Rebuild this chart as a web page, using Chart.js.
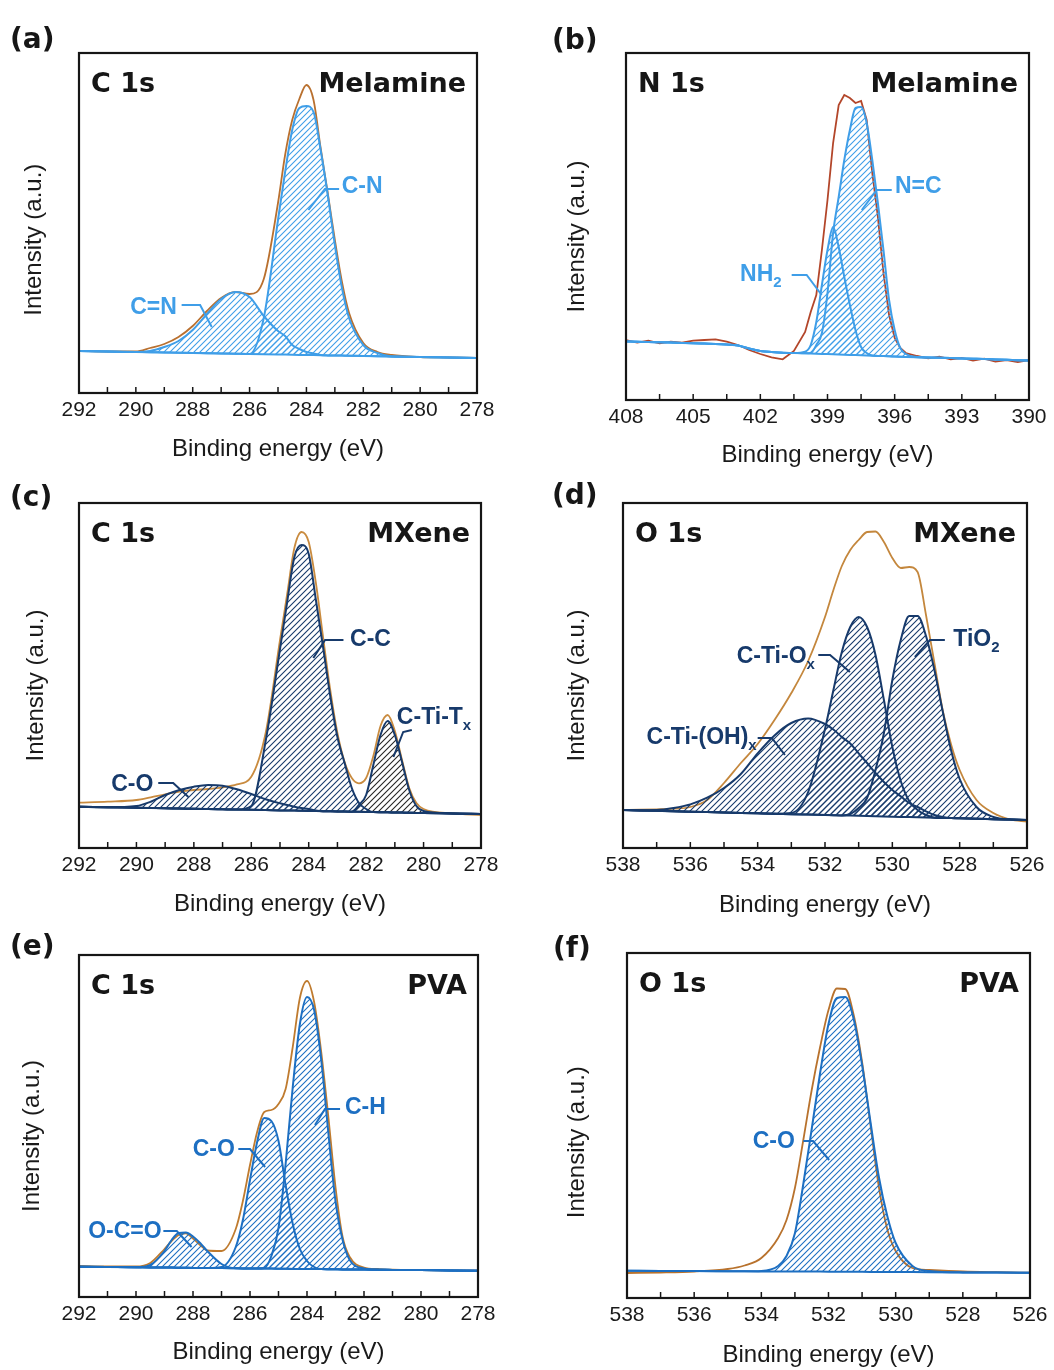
<!DOCTYPE html>
<html lang="en">
<head>
<meta charset="UTF-8">
<title>XPS spectra</title>
<style>
  body { margin: 0; background: #fff; }
  #page { position: relative; width: 1054px; height: 1370px; overflow: hidden; }
  canvas { position: absolute; }
</style>
<script src="https://cdn.jsdelivr.net/npm/chart.js"></script>
</head>
<body>
<div id="page">
  <canvas id="pa" width="527" height="470" style="left:0;top:0"></canvas>
  <canvas id="pb" width="527" height="470" style="left:527px;top:0"></canvas>
  <canvas id="pc" width="527" height="455" style="left:0;top:470px"></canvas>
  <canvas id="pd" width="527" height="455" style="left:527px;top:470px"></canvas>
  <canvas id="pe" width="527" height="445" style="left:0;top:925px"></canvas>
  <canvas id="pf" width="527" height="445" style="left:527px;top:925px"></canvas>
</div>
<script>
// ---- (a) C 1s, melamine ----
const aEnergy   = [292, 291, 290, 289.5, 289, 288.5, 288, 287.5, 287, 286.5, 286, 285.5, 285, 284.75, 284.5, 284.25, 284, 283.75, 283.5, 283.25, 283, 282.75, 282.5, 282, 281.5, 281, 280, 279, 278];
const aBaseline = [42, 41.5, 41, 40.8, 40.5, 40.3, 40, 39.8, 39.5, 39.3, 39, 38.8, 38.5, 38.4, 38.3, 38.1, 38, 37.9, 37.8, 37.6, 37.5, 37.4, 37.3, 37, 36.8, 36.5, 36, 35.5, 35];
const aEnvelope = [42, 41.5, 41.5, 45, 49, 56, 67, 82, 95, 101, 99, 114, 190, 238, 273, 294, 308, 293, 245, 200, 153, 111, 80, 50, 41, 38, 36, 35.5, 35];
const aCN       = [42, 41.5, 41, 40.8, 40.5, 40.3, 40, 39.8, 39.5, 39.3, 39, 75, 173, 221, 263, 285, 287, 281, 243, 198, 148, 105, 75, 48, 40, 36.5, 36, 35.5, 35];
const aCeqN     = [42, 41.5, 41, 42, 46, 52, 63, 79, 94, 101, 96, 77, 62, 57, 48, 44, 41, 39.5, 38, 37.6, 37.5, 37.4, 37.3, 37, 36.8, 36.5, 36, 35.5, 35];
const aTicks    = [292, 290, 288, 286, 284, 282, 280, 278];

// ---- (b) N 1s, melamine ----
const bEnergy   = [408, 407.5, 407, 406.5, 406, 405.5, 405, 404.5, 404, 403.5, 403, 402.5, 402, 401.5, 401, 400.5, 400, 399.75, 399.5, 399.25, 399, 398.75, 398.5, 398.25, 398, 397.75, 397.5, 397.25, 397, 396.75, 396.5, 396.25, 396, 395.75, 395.5, 395, 394.5, 394, 393.5, 393, 392.5, 392, 391.5, 391, 390.5, 390];
const bBaseline = [58.5, 58.2, 58, 57.7, 57.4, 57.1, 56.8, 56.4, 56, 55.4, 54.5, 51.5, 49, 48, 47.3, 47, 46.7, 46.5, 46.3, 46.1, 45.9, 45.7, 45.5, 45.3, 45.1, 44.9, 44.7, 44.5, 44.3, 44.1, 43.9, 43.7, 43.5, 43.3, 43.1, 42.8, 42.5, 42.2, 41.9, 41.6, 41.3, 41, 40.6, 40.2, 39.8, 39.4];
const bEnvelope = [60, 57.3, 59.3, 56.7, 58.3, 57.3, 59.3, 60, 60.7, 58.3, 55, 50, 46, 42.7, 40.7, 49, 68, 88, 105, 150, 200, 257, 295, 305, 302, 297, 299, 280, 227, 183, 127, 85, 62, 52, 47, 44, 41.7, 43.3, 40.7, 42, 39.3, 41.3, 38.3, 40, 38, 40];
const bNC       = [58.5, 58.2, 58, 57.7, 57.4, 57.1, 56.8, 56.4, 56, 55.4, 54.5, 51.5, 49, 48, 47.3, 47, 46.7, 47, 55, 67, 107, 167, 203, 240, 270, 292, 293, 277, 240, 197, 150, 100, 70, 52, 46, 43, 42.5, 42.2, 41.9, 41.6, 41.3, 41, 40.6, 40.2, 39.8, 39.4];
const bNH2      = [58.5, 58.2, 58, 57.7, 57.4, 57.1, 56.8, 56.4, 56, 55.4, 54.5, 51.5, 49, 48, 47.3, 47, 48.3, 55, 78, 115, 150, 173, 153, 123, 95, 70, 53, 47, 44.5, 44.1, 43.9, 43.7, 43.5, 43.3, 43.1, 42.8, 42.5, 42.2, 41.9, 41.6, 41.3, 41, 40.6, 40.2, 39.8, 39.4];
const bTicks    = [408, 405, 402, 399, 396, 393, 390];

// ---- (c) C 1s, MXene ----
const cEnergy   = [292, 291, 290, 289.5, 289, 288.5, 288, 287.5, 287, 286.5, 286, 285.5, 285, 284.75, 284.5, 284.25, 284, 283.75, 283.5, 283.25, 283, 282.75, 282.5, 282.25, 282, 281.75, 281.5, 281.25, 281, 280.75, 280.5, 280.25, 280, 279, 278];
const cBaseline = [41.3, 40.8, 40.3, 40, 39.7, 39.5, 39.2, 39, 38.7, 38.4, 38.2, 37.9, 37.6, 37.5, 37.4, 37.2, 37.1, 37, 36.8, 36.7, 36.6, 36.4, 36.3, 36.2, 36.1, 35.9, 35.8, 35.7, 35.5, 35.4, 35.3, 35.1, 35, 34.5, 34];
const cEnvelope = [45.3, 46.3, 48, 50.7, 53.7, 56.3, 58, 59, 60.7, 63.7, 71.3, 115, 208, 254, 300, 316, 306, 265, 211, 158, 115, 86, 70, 64.7, 70, 92, 122, 133, 117, 88, 60, 45, 39, 34.7, 33];
const cCC       = [41.3, 40.8, 40.3, 40, 39.7, 39.5, 39.2, 39, 38.7, 38.4, 42, 107, 199, 246, 291, 303, 294, 248, 201, 152, 111, 85, 60, 45, 39, 35.9, 35.8, 35.7, 35.5, 35.4, 35.3, 35.1, 35, 34.5, 34];
const cCO       = [41.3, 40.8, 42, 46.3, 53, 58, 61.3, 63, 62.3, 58.7, 54, 48.7, 44.7, 43, 41.3, 40, 39, 37.5, 36.8, 36.7, 36.6, 36.4, 36.3, 36.2, 36.1, 35.9, 35.8, 35.7, 35.5, 35.4, 35.3, 35.1, 35, 34.5, 34];
const cCTiTx    = [41.3, 40.8, 40.3, 40, 39.7, 39.5, 39.2, 39, 38.7, 38.4, 38.2, 37.9, 37.6, 37.5, 37.4, 37.2, 37.1, 37, 36.8, 36.7, 36.6, 36.4, 36.3, 43, 53, 83, 113, 127, 113, 86, 58, 42, 37, 34.5, 34];
const cTicks    = [292, 290, 288, 286, 284, 282, 280, 278];

// ---- (d) O 1s, MXene ----
const dEnergy   = [538, 537.5, 537, 536.5, 536, 535.5, 535, 534.5, 534, 533.5, 533, 532.5, 532, 531.75, 531.5, 531.25, 531, 530.75, 530.5, 530.25, 530, 529.75, 529.5, 529.25, 529, 528.75, 528.5, 528.25, 528, 527.5, 527, 526.5, 526];
const dBaseline = [38, 37.6, 37.2, 36.8, 36.3, 35.9, 35.5, 35.1, 34.7, 34.3, 33.8, 33.4, 33, 32.8, 32.6, 32.4, 32.2, 32, 31.8, 31.6, 31.3, 31.1, 30.9, 30.7, 30.5, 30.3, 30.1, 29.9, 29.7, 29.2, 28.8, 28.4, 28];
const dEnvelope = [38, 38.3, 38.7, 39.3, 41, 48, 65, 85, 104, 128, 155, 187, 231, 258, 282, 298, 308, 316, 316.5, 306, 290, 280, 281, 276, 233, 185, 137, 103, 78, 48, 35, 28.5, 26.3];
const dOHx      = [38, 37.8, 38, 40, 43.6, 50.3, 60, 74, 94.7, 112.6, 125, 129.5, 124, 118.5, 111, 104.5, 94.6, 85, 75, 66, 58, 51.7, 45, 41, 36.7, 33, 31, 29.9, 29.7, 29.2, 28.8, 28.4, 28];
const dOx       = [38, 37.6, 37.2, 36.8, 36.3, 35.9, 35.5, 35.1, 34.7, 34.3, 35, 56, 119, 158, 196, 221, 231, 221, 193, 148, 101, 67, 47, 38, 33, 30.3, 30.1, 29.9, 29.7, 29.2, 28.8, 28.4, 28];
const dTiO2     = [38, 37.6, 37.2, 36.8, 36.3, 35.9, 35.5, 35.1, 34.7, 34.3, 33.8, 33.4, 33, 32.8, 32.6, 34, 40, 50, 78, 115, 168, 208, 232, 232, 212, 178, 136, 97, 69, 41, 31, 28.4, 28];
const dTicks    = [538, 536, 534, 532, 530, 528, 526];

// ---- (e) C 1s, PVA ----
const eEnergy   = [292, 291, 290, 289.5, 289, 288.75, 288.5, 288.25, 288, 287.75, 287.5, 287, 286.5, 286.25, 286, 285.75, 285.5, 285.25, 285, 284.75, 284.5, 284.25, 284, 283.75, 283.5, 283.25, 283, 282.75, 282.5, 282, 281.5, 281, 280, 279, 278];
const eBaseline = [30.3, 30, 29.7, 29.6, 29.4, 29.4, 29.3, 29.2, 29.1, 29.1, 29, 28.9, 28.7, 28.6, 28.6, 28.5, 28.4, 28.4, 28.3, 28.2, 28.1, 28.1, 28, 27.9, 27.9, 27.8, 27.7, 27.6, 27.6, 27.4, 27.3, 27.1, 26.9, 26.6, 26.3];
const eEnvelope = [31, 30.5, 30.5, 34, 48, 56, 62, 63.7, 58.5, 52, 46.5, 46, 68, 96, 132, 165, 185, 187, 193, 208, 250, 299, 316, 295, 245, 180, 110, 60, 40, 29.5, 28, 27.3, 26.9, 26.6, 26.3];
const eCH       = [30.3, 30, 29.7, 29.6, 29.4, 29.4, 29.3, 29.2, 29.1, 29.1, 29, 28.9, 28.7, 28.6, 28.6, 28.5, 29, 41, 69, 133, 210, 273, 300, 287, 237, 164, 96, 57, 37, 28.5, 27.3, 27.1, 26.9, 26.6, 26.3];
const eCO       = [30.3, 30, 29.7, 29.6, 29.4, 29.4, 29.3, 29.2, 29.1, 29.1, 29, 30, 50, 77, 117, 155, 179, 176, 156, 112, 73, 48, 36, 30, 27.9, 27.8, 27.7, 27.6, 27.6, 27.4, 27.3, 27.1, 26.9, 26.6, 26.3];
const eOCO      = [30.3, 30, 29.7, 32, 46, 57, 64, 64.5, 60.5, 54, 46, 33, 28.7, 28.6, 28.6, 28.5, 28.4, 28.4, 28.3, 28.2, 28.1, 28.1, 28, 27.9, 27.9, 27.8, 27.7, 27.6, 27.6, 27.4, 27.3, 27.1, 26.9, 26.6, 26.3];
const eTicks    = [292, 290, 288, 286, 284, 282, 280, 278];

// ---- (f) O 1s, PVA ----
const fEnergy   = [538, 537, 536, 535, 534.5, 534, 533.5, 533.25, 533, 532.75, 532.5, 532.25, 532, 531.75, 531.5, 531.25, 531, 530.75, 530.5, 530.25, 530, 529.5, 529, 528, 527, 526];
const fBaseline = [27.3, 27.1, 27, 26.8, 26.7, 26.6, 26.6, 26.5, 26.5, 26.4, 26.4, 26.4, 26.3, 26.3, 26.2, 26.2, 26.2, 26.1, 26.1, 26, 26, 25.9, 25.8, 25.6, 25.5, 25.3];
const fEnvelope = [25, 25.5, 26.5, 29, 32.5, 40, 60, 78, 110, 158, 208, 251, 288, 309.5, 309, 283, 236, 173, 111, 68.7, 47, 30, 28, 26.5, 25.8, 25.3];
const fCO       = [27.3, 27.1, 27, 26.8, 26.7, 27, 32, 42, 64.7, 114, 169, 225, 274, 300, 301, 279, 233, 176, 121, 82, 55, 32, 27, 25.6, 25.5, 25.3];
const fTicks    = [538, 536, 534, 532, 530, 528, 526];

// colours
const LIGHT = '#3f9ee8', NAVY = '#173a6b', MID = '#1d6fc2';
const INK = '#161616';
const LABEL_FONT = 'bold 23px "Liberation Sans", Arial, sans-serif';
const SUB_FONT = 'bold 15px "Liberation Sans", Arial, sans-serif';

// diagonal hatch used for the fitted components
function hatch(color) {
  const c = document.createElement('canvas');
  c.width = 6; c.height = 6;
  const g = c.getContext('2d');
  g.strokeStyle = color;
  g.lineWidth = 1.1;
  g.beginPath();
  g.moveTo(-1, 7); g.lineTo(7, -1);
  g.moveTo(-1, 1); g.lineTo(1, -1);
  g.moveTo(5, 7); g.lineTo(7, 5);
  g.stroke();
  return g.createPattern(c, 'repeat');
}

const panels = [
  { id: 'pa', letter: '(a)', core: 'C 1s', sample: 'Melamine',
    cv: {x: 0, y: 0, w: 527, h: 470}, box: {l: 79, t: 53, r: 477, b: 393}, letterAt: [10, 48],
    min: 278, max: 292, step: 1, ticks: aTicks, xPad: 6, yPad: 20, ySp: 5,
    energy: aEnergy, baseline: aBaseline, envelope: aEnvelope, env: '#b9702f', base: LIGHT, smoothEnv: true,
    peaks: [{name: 'C-N', data: aCN, color: LIGHT}, {name: 'C=N', data: aCeqN, color: LIGHT}],
    labels: [
      {text: 'C-N', e: 282.76, h: 206, align: 'left', color: LIGHT, leader: [[282.85, 204], [283.35, 204], [283.93, 183]]},
      {text: 'C=N', e: 288.56, h: 85, align: 'right', color: LIGHT, leader: [[288.39, 88], [287.74, 88], [287.33, 66]]}
    ]},
  { id: 'pb', letter: '(b)', core: 'N 1s', sample: 'Melamine',
    cv: {x: 527, y: 0, w: 527, h: 470}, box: {l: 626, t: 53, r: 1029, b: 400}, letterAt: [552, 49],
    min: 390, max: 408, step: 1.5, ticks: bTicks, xPad: 0, yPad: 36, ySp: 3,
    energy: bEnergy, baseline: bBaseline, envelope: bEnvelope, env: '#b3462a', base: LIGHT, smoothEnv: false,
    peaks: [{name: 'N=C', data: bNC, color: LIGHT}, {name: 'NH2', data: bNH2, color: LIGHT}],
    labels: [
      {text: 'N=C', e: 395.99, h: 213, align: 'left', color: LIGHT, leader: [[396.13, 210], [396.8, 210], [397.47, 190]]},
      {text: 'NH', sub: '2', e: 401.05, h: 125, align: 'right', color: LIGHT, leader: [[400.6, 125], [399.93, 125], [399.26, 105]]}
    ]},
  { id: 'pc', letter: '(c)', core: 'C 1s', sample: 'MXene',
    cv: {x: 0, y: 470, w: 527, h: 455}, box: {l: 79, t: 503, r: 481, b: 848}, letterAt: [10, 506],
    min: 278, max: 292, step: 1, ticks: cTicks, xPad: 6, yPad: 22, ySp: 3,
    energy: cEnergy, baseline: cBaseline, envelope: cEnvelope, env: '#c98b3f', base: NAVY, smoothEnv: true,
    peaks: [{name: 'C-C', data: cCC, color: NAVY}, {name: 'C-O', data: cCO, color: NAVY}, {name: 'C-Ti-Tx', data: cCTiTx, color: NAVY, hatch: '#262626'}],
    labels: [
      {text: 'C-C', e: 282.56, h: 208, align: 'left', color: NAVY, leader: [[282.79, 208], [283.43, 208], [283.84, 190]]},
      {text: 'C-Ti-T', sub: 'x', e: 280.93, h: 130, align: 'left', color: NAVY, leader: [[280.41, 118], [280.71, 116], [281.05, 91]]},
      {text: 'C-O', e: 289.41, h: 63, align: 'right', color: NAVY, leader: [[289.24, 65], [288.72, 65], [288.19, 51]]}
    ]},
  { id: 'pd', letter: '(d)', core: 'O 1s', sample: 'MXene',
    cv: {x: 527, y: 470, w: 527, h: 455}, box: {l: 623, t: 503, r: 1027, b: 848}, letterAt: [552, 504],
    min: 526, max: 538, step: 1, ticks: dTicks, xPad: 5, yPad: 36, ySp: 3,
    energy: dEnergy, baseline: dBaseline, envelope: dEnvelope, env: '#c4873d', base: NAVY, smoothEnv: true,
    peaks: [{name: 'C-Ti-(OH)x', data: dOHx, color: NAVY}, {name: 'C-Ti-Ox', data: dOx, color: NAVY}, {name: 'TiO2', data: dTiO2, color: NAVY}],
    labels: [
      {text: 'TiO', sub: '2', e: 528.19, h: 208, align: 'left', color: NAVY, leader: [[528.44, 208], [528.88, 208], [529.33, 191]]},
      {text: 'C-Ti-O', sub: 'x', e: 532.3, h: 191, align: 'right', color: NAVY, leader: [[532.2, 193], [531.85, 193], [531.26, 176]]},
      {text: 'C-Ti-(OH)', sub: 'x', e: 534.03, h: 110, align: 'right', color: NAVY, leader: [[534.0, 110], [533.58, 110], [533.19, 93]]}
    ]},
  { id: 'pe', letter: '(e)', core: 'C 1s', sample: 'PVA',
    cv: {x: 0, y: 925, w: 527, h: 445}, box: {l: 79, t: 955, r: 478, b: 1297}, letterAt: [10, 955],
    min: 278, max: 292, step: 1, ticks: eTicks, xPad: 3, yPad: 18, ySp: 3,
    energy: eEnergy, baseline: eBaseline, envelope: eEnvelope, env: '#bf7b2f', base: MID, smoothEnv: true,
    peaks: [{name: 'C-H', data: eCH, color: MID}, {name: 'C-O', data: eCO, color: MID}, {name: 'O-C=O', data: eOCO, color: MID}],
    labels: [
      {text: 'C-H', e: 282.67, h: 189, align: 'left', color: MID, leader: [[282.84, 188], [283.37, 188], [283.72, 172]]},
      {text: 'C-O', e: 286.53, h: 147, align: 'right', color: MID, leader: [[286.41, 148], [286.0, 148], [285.47, 130]]},
      {text: 'O-C=O', e: 289.1, h: 65, align: 'right', color: MID, leader: [[289.04, 66], [288.57, 66], [288.05, 50]]}
    ]},
  { id: 'pf', letter: '(f)', core: 'O 1s', sample: 'PVA',
    cv: {x: 527, y: 925, w: 527, h: 445}, box: {l: 627, t: 953, r: 1030, b: 1298}, letterAt: [553, 957],
    min: 526, max: 538, step: 1, ticks: fTicks, xPad: 0, yPad: 36, ySp: 5,
    energy: fEnergy, baseline: fBaseline, envelope: fEnvelope, env: '#b8722d', base: MID, smoothEnv: true,
    peaks: [{name: 'C-O', data: fCO, color: MID}],
    labels: [
      {text: 'C-O', e: 533.0, h: 156, align: 'right', color: MID, leader: [[532.75, 157], [532.46, 157], [531.98, 138]]}
    ]}
];

// frame, inward ticks, panel titles and peak labels
const decor = {
  id: 'decor',
  afterDraw(chart, args, o) {
    const p = o.panel;
    const ctx = chart.ctx, a = chart.chartArea;
    const xs = chart.scales.x, ys = chart.scales.y;
    ctx.save();
    ctx.strokeStyle = INK;
    ctx.lineWidth = 1.5;
    xs.ticks.forEach(t => {
      const px = xs.getPixelForValue(t.value);
      ctx.beginPath();
      ctx.moveTo(px, a.bottom);
      ctx.lineTo(px, a.bottom - 6);
      ctx.stroke();
    });
    ctx.lineWidth = 2.2;
    ctx.strokeRect(a.left, a.top, a.right - a.left, a.bottom - a.top);

    ctx.fillStyle = INK;
    ctx.font = 'bold 27px "DejaVu Sans", sans-serif';
    ctx.textBaseline = 'alphabetic';
    ctx.textAlign = 'left';
    ctx.fillText(p.core, a.left + 12, a.top + 39);
    ctx.textAlign = 'right';
    ctx.fillText(p.sample, a.right - 11, a.top + 39);
    ctx.textAlign = 'left';
    ctx.font = 'bold 28px "DejaVu Sans", sans-serif';
    ctx.fillText(p.letter, p.letterAt[0] - p.cv.x, p.letterAt[1] - p.cv.y);

    p.labels.forEach(l => {
      ctx.strokeStyle = l.color;
      ctx.lineWidth = 2;
      ctx.beginPath();
      l.leader.forEach((q, i) => {
        const X = xs.getPixelForValue(q[0]), Y = ys.getPixelForValue(q[1]);
        if (i) ctx.lineTo(X, Y); else ctx.moveTo(X, Y);
      });
      ctx.stroke();
      const X = xs.getPixelForValue(l.e), Y = ys.getPixelForValue(l.h);
      ctx.font = LABEL_FONT;
      const w1 = ctx.measureText(l.text).width;
      ctx.font = SUB_FONT;
      const w2 = l.sub ? ctx.measureText(l.sub).width : 0;
      const x0 = l.align === 'right' ? X - w1 - w2 : X;
      ctx.fillStyle = l.color;
      ctx.textAlign = 'left';
      ctx.textBaseline = 'middle';
      ctx.font = LABEL_FONT;
      ctx.fillText(l.text, x0, Y);
      if (l.sub) {
        ctx.font = SUB_FONT;
        ctx.fillText(l.sub, x0 + w1, Y + 8);
      }
    });
    ctx.restore();
  }
};

const pts = (xs, ys) => xs.map((x, i) => ({x: x, y: ys[i]}));

panels.forEach(p => {
  const datasets = [
    { label: 'envelope', data: pts(p.energy, p.envelope), borderColor: p.env, borderWidth: 1.8,
      pointRadius: 0, fill: false, order: 3,
      cubicInterpolationMode: p.smoothEnv ? 'monotone' : 'default', tension: 0 },
    { label: 'background', data: pts(p.energy, p.baseline), borderColor: p.base, borderWidth: 2,
      pointRadius: 0, fill: false, order: 1 }
  ];
  p.peaks.forEach(pk => datasets.push({
    label: pk.name, data: pts(p.energy, pk.data), borderColor: pk.color, borderWidth: 2,
    backgroundColor: hatch(pk.hatch || pk.color), fill: 1, pointRadius: 0, order: 2,
    cubicInterpolationMode: 'monotone'
  }));

  new Chart(document.getElementById(p.id), {
    type: 'line',
    data: { datasets },
    options: {
      responsive: false,
      animation: false,
      devicePixelRatio: 1,
      events: [],
      layout: { autoPadding: false,
        padding: { top: p.box.t - p.cv.y, right: p.cv.x + p.cv.w - p.box.r, left: 0, bottom: 0 } },
      plugins: { legend: { display: false }, tooltip: { enabled: false }, decor: { panel: p } },
      scales: {
        x: {
          type: 'linear', reverse: true, min: p.min, max: p.max,
          grid: { display: false, drawTicks: false }, border: { display: false },
          ticks: { stepSize: p.step, autoSkip: false, maxRotation: 0, minRotation: 0, padding: 5,
            color: '#1a1a1a', font: { family: '"Liberation Sans", Arial, sans-serif', size: 21 },
            callback: v => p.ticks.includes(v) ? String(v) : '' },
          title: { display: true, text: 'Binding energy (eV)', color: '#1a1a1a',
            font: { family: '"Liberation Sans", Arial, sans-serif', size: 24 },
            padding: { top: 0, bottom: p.xPad } },
          afterFit: s => { s.height = p.cv.y + p.cv.h - p.box.b; }
        },
        y: {
          min: 0, max: p.box.b - p.box.t,
          grid: { display: false, drawTicks: false }, border: { display: false },
          ticks: { display: false },
          title: { display: true, text: 'Intensity (a.u.)' + '\u00a0'.repeat(p.ySp), color: '#1a1a1a',
            font: { family: '"Liberation Sans", Arial, sans-serif', size: 24 },
            padding: { top: p.yPad, bottom: 0 } },
          afterFit: s => { s.width = p.box.l - p.cv.x; }
        }
      }
    },
    plugins: [decor]
  });
});
</script>
</body>
</html>
